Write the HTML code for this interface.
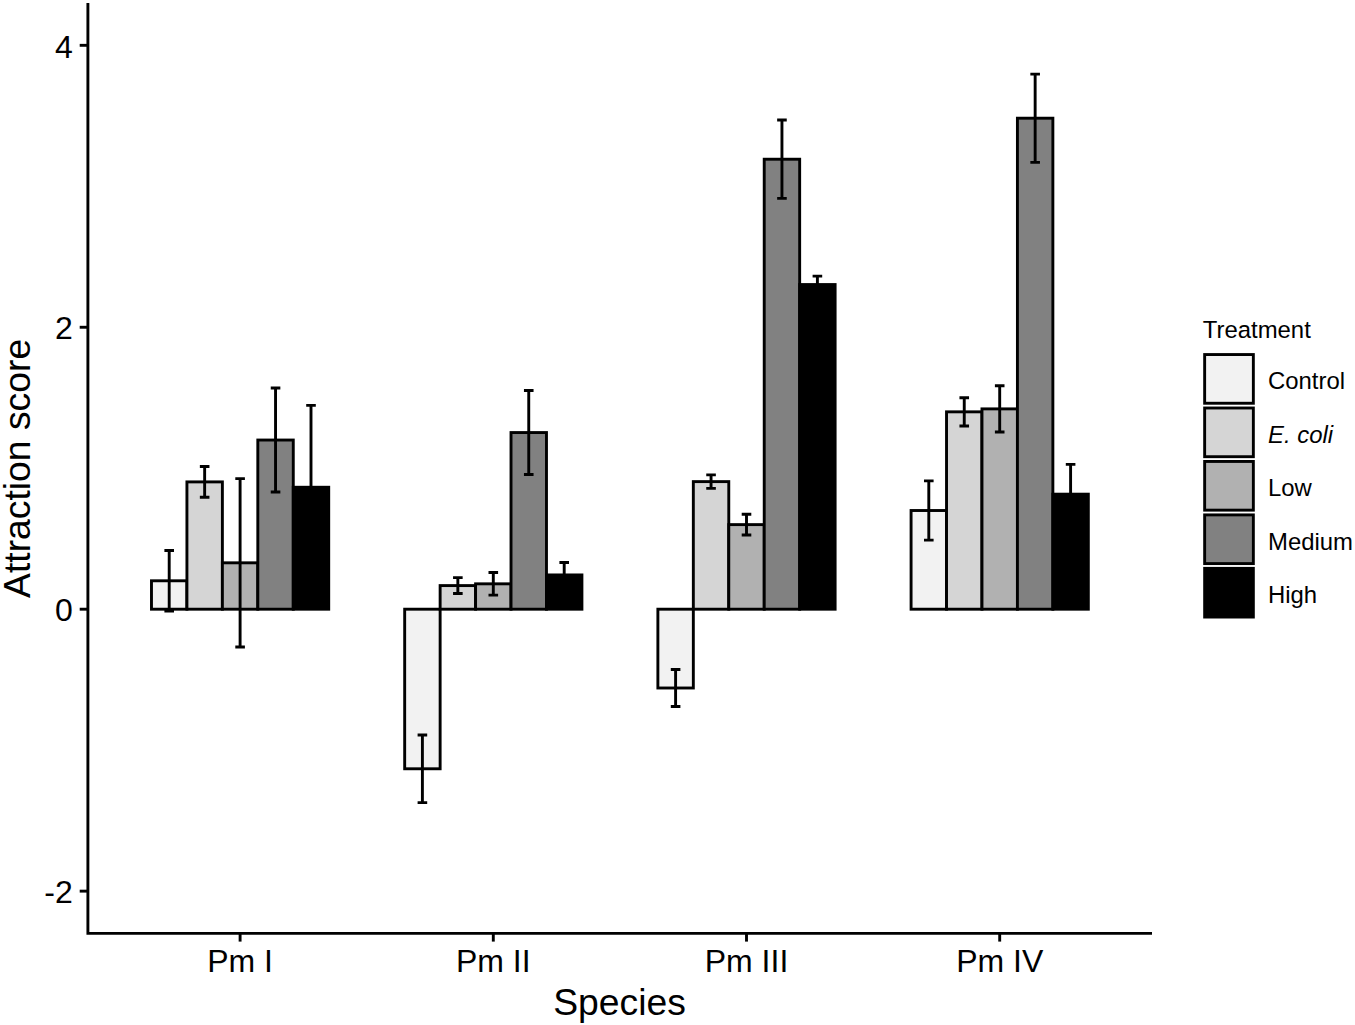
<!DOCTYPE html>
<html><head><meta charset="utf-8"><style>
html,body{margin:0;padding:0;background:#fff;}
svg{display:block;}
text{font-family:"Liberation Sans",sans-serif;fill:#000;}
</style></head><body>
<svg width="1355" height="1025" viewBox="0 0 1355 1025">
<rect width="1355" height="1025" fill="#fff"/>
<g stroke="#000" stroke-width="2.9" stroke-linejoin="miter">
<rect x="151.48" y="580.79" width="35.45" height="28.41" fill="#F2F2F2"/>
<rect x="186.93" y="481.90" width="35.45" height="127.30" fill="#D5D5D5"/>
<rect x="222.38" y="562.82" width="35.45" height="46.38" fill="#B1B1B1"/>
<rect x="257.82" y="440.04" width="35.45" height="169.16" fill="#818181"/>
<rect x="293.27" y="487.26" width="35.45" height="121.94" fill="#000000"/>
<rect x="404.68" y="609.20" width="35.45" height="159.58" fill="#F2F2F2"/>
<rect x="440.13" y="585.59" width="35.45" height="23.61" fill="#D5D5D5"/>
<rect x="475.58" y="583.83" width="35.45" height="25.37" fill="#B1B1B1"/>
<rect x="511.02" y="432.56" width="35.45" height="176.64" fill="#818181"/>
<rect x="546.47" y="574.94" width="35.45" height="34.26" fill="#000000"/>
<rect x="657.88" y="609.20" width="35.45" height="78.80" fill="#F2F2F2"/>
<rect x="693.33" y="481.62" width="35.45" height="127.58" fill="#D5D5D5"/>
<rect x="728.78" y="524.62" width="35.45" height="84.58" fill="#B1B1B1"/>
<rect x="764.22" y="159.22" width="35.45" height="449.98" fill="#818181"/>
<rect x="799.67" y="284.55" width="35.45" height="324.65" fill="#000000"/>
<rect x="911.08" y="510.52" width="35.45" height="98.68" fill="#F2F2F2"/>
<rect x="946.53" y="411.84" width="35.45" height="197.36" fill="#D5D5D5"/>
<rect x="981.98" y="408.88" width="35.45" height="200.32" fill="#B1B1B1"/>
<rect x="1017.42" y="118.20" width="35.45" height="491.00" fill="#818181"/>
<rect x="1052.87" y="494.17" width="35.45" height="115.03" fill="#000000"/>
</g>
<g stroke="#000" stroke-width="2.9" fill="none" stroke-linecap="butt">
<path d="M164.40 550.56H174.00M169.20 550.56V611.03M164.40 611.03H174.00"/>
<path d="M199.85 466.54H209.45M204.65 466.54V497.27M199.85 497.27H209.45"/>
<path d="M235.30 478.66H244.90M240.10 478.66V646.98M235.30 646.98H244.90"/>
<path d="M270.75 388.02H280.35M275.55 388.02V492.05M270.75 492.05H280.35"/>
<path d="M306.20 405.36H315.80M311.00 405.36V569.16M306.20 569.16H315.80"/>
<path d="M417.60 734.95H427.20M422.40 734.95V802.61M417.60 802.61H427.20"/>
<path d="M453.05 577.62H462.65M457.85 577.62V593.55M453.05 593.55H462.65"/>
<path d="M488.50 572.55H498.10M493.30 572.55V595.10M488.50 595.10H498.10"/>
<path d="M523.95 390.56H533.55M528.75 390.56V474.57M523.95 474.57H533.55"/>
<path d="M559.40 562.54H569.00M564.20 562.54V587.35M559.40 587.35H569.00"/>
<path d="M670.80 669.54H680.40M675.60 669.54V706.47M670.80 706.47H680.40"/>
<path d="M706.25 474.86H715.85M711.05 474.86V488.39M706.25 488.39H715.85"/>
<path d="M741.70 514.19H751.30M746.50 514.19V535.05M741.70 535.05H751.30"/>
<path d="M777.15 120.03H786.75M781.95 120.03V198.41M777.15 198.41H786.75"/>
<path d="M812.60 276.09H822.20M817.40 276.09V293.00M812.60 293.00H822.20"/>
<path d="M924.00 480.92H933.60M928.80 480.92V540.12M924.00 540.12H933.60"/>
<path d="M959.45 397.75H969.05M964.25 397.75V425.94M959.45 425.94H969.05"/>
<path d="M994.90 385.76H1004.50M999.70 385.76V432.00M994.90 432.00H1004.50"/>
<path d="M1030.35 74.08H1039.95M1035.15 74.08V162.33M1030.35 162.33H1039.95"/>
<path d="M1065.80 464.42H1075.40M1070.60 464.42V523.91M1065.80 523.91H1075.40"/>
</g>
<g stroke="#000" stroke-width="2.9" fill="none" stroke-linecap="butt">
<path d="M87.9 3.0V933.4H1152.0"/>
<path d="M79.70 45.32H87.9"/><path d="M79.70 327.26H87.9"/><path d="M79.70 609.20H87.9"/><path d="M79.70 891.14H87.9"/>
<path d="M240.10 933.4V941.60"/><path d="M493.30 933.4V941.60"/><path d="M746.50 933.4V941.60"/><path d="M999.70 933.4V941.60"/>
</g>
<g font-size="32">
<text x="72.8" y="57.5" text-anchor="end">4</text><text x="72.8" y="339.4" text-anchor="end">2</text><text x="72.8" y="620.8" text-anchor="end">0</text><text x="72.8" y="902.8" text-anchor="end">-2</text>
<text x="240.10" y="971.8" text-anchor="middle">Pm I</text><text x="493.30" y="971.8" text-anchor="middle">Pm II</text><text x="746.50" y="971.8" text-anchor="middle">Pm III</text><text x="999.70" y="971.8" text-anchor="middle">Pm IV</text>
</g>
<text x="619.6" y="1014.6" font-size="37.3" text-anchor="middle">Species</text>
<text transform="translate(30.3 468.4) rotate(-90)" font-size="37.3" text-anchor="middle">Attraction score</text>
<text x="1202.8" y="338.3" font-size="23.9">Treatment</text>
<g stroke="#000" stroke-width="2.9">
<rect x="1204.65" y="354.55" width="48.70" height="48.70" fill="#F2F2F2"/><rect x="1204.65" y="408.00" width="48.70" height="48.70" fill="#D5D5D5"/><rect x="1204.65" y="461.45" width="48.70" height="48.70" fill="#B1B1B1"/><rect x="1204.65" y="514.90" width="48.70" height="48.70" fill="#818181"/><rect x="1204.65" y="568.35" width="48.70" height="48.70" fill="#000000"/>
</g>
<g font-size="23.9">
<text x="1268.0" y="389.30">Control</text><text x="1268.0" y="442.75"><tspan font-style="italic">E. coli</tspan></text><text x="1268.0" y="496.20">Low</text><text x="1268.0" y="549.65">Medium</text><text x="1268.0" y="603.10">High</text>
</g>
</svg>
</body></html>
